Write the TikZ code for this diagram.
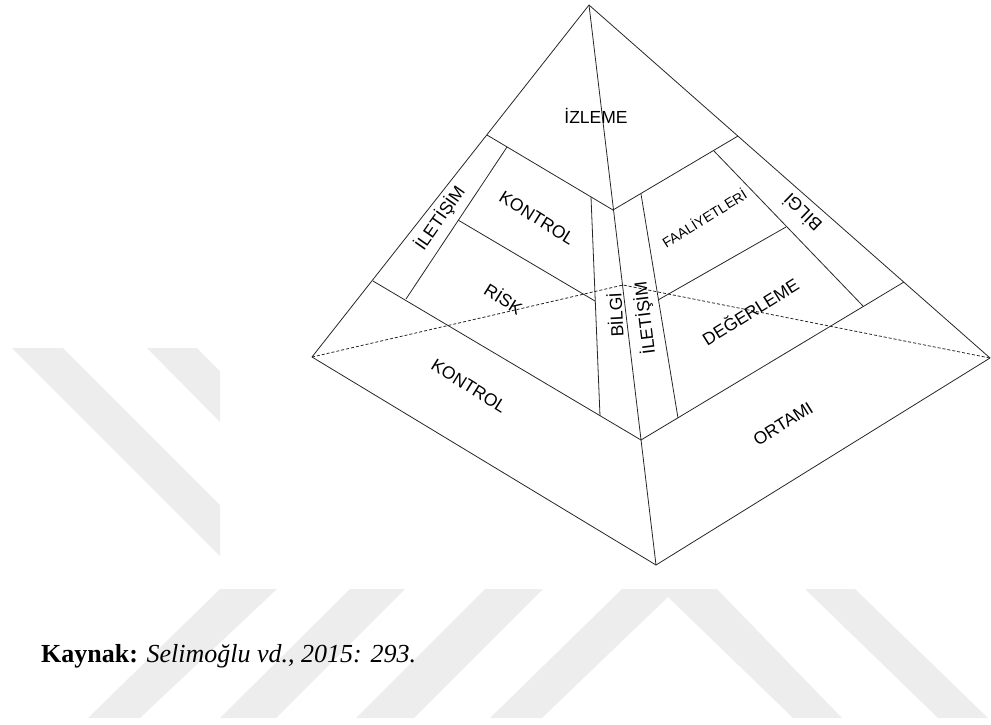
\documentclass[tikz,border=0pt]{standalone}
\usepackage{fontspec}
\setmainfont{Liberation Serif}
\newfontfamily\labelfont{Liberation Sans}
\usepackage{tikz}

\tikzset{
  edge/.style={draw=black!85, line width=0.8pt, line join=round},
  hidden/.style={draw=black!85, line width=0.8pt, dash pattern=on 3pt off 2pt},
  lbl/.style={font=\labelfont\fontsize{17.5}{18}\selectfont, inner sep=0pt},
  smalllbl/.style={font=\labelfont\fontsize{14}{15}\selectfont, inner sep=0pt},
  wmband/.style={fill=black!7, draw=none}
}

\begin{document}
\begin{tikzpicture}[x=1pt, y=-1pt]
  \useasboundingbox (0,0) rectangle (991,724);

  \fill[wmband] (12,348) -- (63,348) -- (220,505) -- (220,556) -- cycle;
  \fill[wmband] (147,348) -- (197,348) -- (220,371) -- (220,422) -- cycle;
  \fill[wmband] (88,718) -- (220,589) -- (277,589) -- (140,718) -- cycle;
  \fill[wmband] (220,718) -- (350,589) -- (405,589) -- (276,718) -- cycle;
  \fill[wmband] (356,718) -- (485,589) -- (543,589) -- (414,718) -- cycle;
  \fill[wmband] (490,718) -- (622,589) -- (717,589) -- (842,718) -- (793,718)
    -- (668,597) -- (542,718) -- cycle;
  \fill[wmband] (805,589) -- (855,589) -- (988,718) -- (938,718) -- cycle;

  \coordinate (apex) at (589,5);
  \coordinate (left) at (312,357);
  \coordinate (right) at (990,358);
  \coordinate (bottom) at (656,565);
  \coordinate (back) at (623,285);
  \coordinate (inner) at (641,440);
  \coordinate (frameL) at (373,281);
  \coordinate (frameR) at (904,282);
  \coordinate (izL) at (487,135);
  \coordinate (izC) at (613,210);
  \coordinate (izR) at (738,136);
  \coordinate (iletL1) at (507,147);
  \coordinate (iletL2) at (406,299);
  \coordinate (bilC1) at (591,197);
  \coordinate (bilC2) at (600,416);
  \coordinate (iletC1) at (641,194);
  \coordinate (iletC2) at (678,418);
  \coordinate (bilR1) at (714,151);
  \coordinate (bilR2) at (863,306);
  \coordinate (riskT) at (458,220);
  \coordinate (riskB) at (595,301);
  \coordinate (degT) at (786,227);
  \coordinate (degB) at (658,300);

  \draw[edge] (apex) -- (left) -- (bottom) -- (right) -- cycle;
  \draw[edge] (apex) -- (bottom);
  \draw[edge] (frameL) -- (inner) -- (frameR);
  \draw[edge] (izL) -- (izC) -- (izR);
  \draw[edge] (iletL1) -- (iletL2);
  \draw[edge] (bilC1) -- (bilC2);
  \draw[edge] (iletC1) -- (iletC2);
  \draw[edge] (bilR1) -- (bilR2);
  \draw[edge] (riskT) -- (riskB);
  \draw[edge] (degB) -- (degT);
  \draw[hidden] (left) -- (back) -- (right);

  \node[lbl] (izleme) at (596,116) {İZLEME};
  \node[lbl, rotate=55] (iletisimL) at (440,218) {İLETİŞİM};
  \node[lbl, rotate=-32] (kontrolU) at (537,218) {KONTROL};
  \node[lbl, rotate=-32] (risk) at (504,298) {RİSK};
  \node[lbl, rotate=-32] (kontrolL) at (469,386) {KONTROL};
  \node[lbl, rotate=93] (bilgiC) at (615,315) {BİLGİ};
  \node[lbl, rotate=97] (iletisimC) at (645,318) {İLETİŞİM};
  \node[smalllbl, rotate=32] (faaliyet) at (704,218) {FAALİYETLERİ};
  \node[lbl, rotate=136] (bilgiR) at (802,213) {BİLGİ};
  \node[lbl, rotate=32] (degerleme) at (750,311) {DEĞERLEME};
  \node[lbl, rotate=32] (ortami) at (783,424) {ORTAMI};

  \node[anchor=base west, inner sep=0pt, font=\fontsize{26}{28}\selectfont] (kaynak) at (41,662)
    {\textbf{Kaynak:} \textit{Selimoğlu vd., 2015: 293.}};
\end{tikzpicture}
\end{document}
